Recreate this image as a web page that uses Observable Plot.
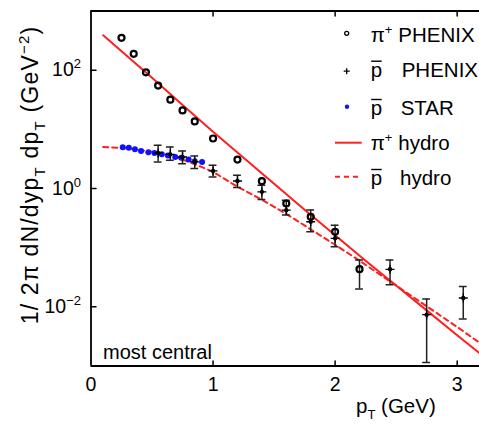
<!DOCTYPE html>
<html><head><meta charset="utf-8">
<script src="https://cdn.jsdelivr.net/npm/d3@7"></script>
<script src="https://cdn.jsdelivr.net/npm/@observablehq/plot@0.6"></script>
<style>body{margin:0;background:#fff;} #chart{width:479px;height:424px;overflow:hidden;}</style>
</head><body><div id="chart"></div>
<script>
// ---- data ----
const piX = [0.25,0.35,0.45,0.55,0.65,0.75,0.85,1.0,1.2,1.4,1.6,1.8,2.0,2.2];
const piY = [352,189,92,55,31.7,20.9,13.6,7.0,3.08,1.33,0.558,0.332,0.185,0.0433];
const piErrX = [2.2];
const piErrLo = [0.020];
const piErrHi = [0.0617];

const pbX  = [0.55,0.65,0.75,0.85,1.0,1.2,1.4,1.6,1.8,2.0,2.45,2.75,3.05];
const pbY  = [3.98,3.78,3.41,2.81,1.98,1.34,0.877,0.431,0.274,0.144,0.0431,0.00736,0.0141];
const pbHi = [5.36,5.01,4.30,3.54,2.47,1.67,1.14,0.635,0.432,0.240,0.0621,0.0135,0.0220];
const pbLo = [2.81,2.99,2.63,2.17,1.57,1.04,0.653,0.356,0.186,0.104,0.0236,0.00115,0.00624];

const starX = [0.26,0.31,0.36,0.41,0.47,0.52,0.58,0.63,0.69,0.74,0.80,0.85,0.91];
const starY = [5.0,4.9,4.6,4.3,4.1,4.0,3.8,3.6,3.4,3.3,3.1,2.9,2.8];

const piHydroX = [0.1,0.25,0.5,0.75,1.0,1.25,1.5,1.75,2.0,2.25,2.5,2.75,3.0,3.2];
const piHydroY = [389,209,74.1,25.7,9.12,3.31,1.20,0.437,0.162,0.0603,0.0229,0.00871,0.00331,0.00155];

const pbHydroX = [0.1,0.3,0.5,0.7,0.9,1.0,1.2,1.4,1.6,1.8,2.0,2.2,2.4,2.6,2.8,3.0,3.2];
const pbHydroY = [5.01,4.79,4.17,3.39,2.34,1.91,1.07,0.646,0.372,0.204,0.112,0.0603,0.0316,0.0166,0.00871,0.00457,0.00234];

const xTicks = [0,1,2,3];
const xInnerTicks = [1,2,3];
const yTicks = [1e-2,1,1e2];
const xDomain = [0, 3.183];
const yDomain = [1e-3, 1e3];

// ---- build tables ----
const pi = piX.map((x,i)=>({x, y: piY[i]}));
const piErr = piErrX.map((x,i)=>({x, lo: piErrLo[i], hi: piErrHi[i]}));
const pb = pbX.map((x,i)=>({x, y: pbY[i], lo: pbLo[i], hi: pbHi[i]}));
const errs = [...pb, ...piErr];
const star = starX.map((x,i)=>({x, y: starY[i]}));
const piHydro = piHydroX.map((x,i)=>({x, y: piHydroY[i]}));
const pbHydro = pbHydroX.map((x,i)=>({x, y: pbHydroY[i]}));

const FONT = "'Liberation Sans', Arial, Helvetica, sans-serif";
const RED = "#ff1f1f", BLUE = "#1010ff", ERR = "#222";
const capHalf = 0.032;
const tickShape = {draw(ctx, l){ ctx.moveTo(0,0); ctx.lineTo(0,-l); }};

const plot = Plot.plot({
  width: 479, height: 424,
  marginLeft: 90.5, marginRight: 0, marginTop: 10.5, marginBottom: 58.5,
  style: {fontFamily: FONT, fontSize: "19px", background: "white", color: "black"},
  x: {domain: xDomain},
  y: {type: "log", domain: yDomain},
  marks: [
    Plot.axisX({ticks: xTicks, tickSize: 0, tickPadding: 11, tickFormat: d => String(d), label: null, fontSize: 19.5}),
    Plot.axisY({ticks: yTicks, tickSize: 0, tickPadding: 10,
      tickFormat: d => { const e = Math.round(Math.log10(d)); return e < 0 ? "\u2212" + (-e) : String(e); },
      label: null, fontSize: 19.5}),
    // hydro curves
    Plot.line(piHydro, {x: "x", y: "y", stroke: RED, strokeWidth: 2, clip: true}),
    Plot.line(pbHydro, {x: "x", y: "y", stroke: RED, strokeWidth: 2, strokeDasharray: "5,4", clip: true}),
    // STAR
    Plot.dot(star, {x: "x", y: "y", r: 3, fill: BLUE, stroke: "none", clip: true}),
    // error bars
    Plot.ruleX(errs, {x: "x", y1: "lo", y2: "hi", stroke: ERR, strokeWidth: 1.5, clip: true}),
    Plot.ruleY(errs, {y: "hi", x1: d => d.x - capHalf, x2: d => d.x + capHalf, stroke: ERR, strokeWidth: 1.5, clip: true}),
    Plot.ruleY(errs, {y: "lo", x1: d => d.x - capHalf, x2: d => d.x + capHalf, stroke: ERR, strokeWidth: 1.5, clip: true}),
    // pbar PHENIX
    Plot.dot(pb, {x: "x", y: "y", r: 2.2, fill: "black", stroke: "none", clip: true}),
    Plot.dot(pb, {x: "x", y: "y", r: 3, symbol: "plus", stroke: "black", strokeWidth: 1.3, clip: true}),
    // pi+ PHENIX
    Plot.dot(pi, {x: "x", y: "y", r: 3, fill: "none", stroke: "black", strokeWidth: 2.2, clip: true}),
    // frame
    Plot.ruleX([xDomain[0]], {stroke: "black", strokeWidth: 1.8}),
    Plot.ruleY([yDomain[0]], {stroke: "black", strokeWidth: 1.8}),
    Plot.ruleY([yDomain[1]], {stroke: "black", strokeWidth: 1.8}),
    // inward ticks
    Plot.vector(xInnerTicks, {x: d => d, frameAnchor: "bottom", length: 5, rotate: 0, anchor: "start", shape: tickShape, stroke: "black", strokeWidth: 1.5}),
    Plot.vector(xInnerTicks, {x: d => d, frameAnchor: "top", length: 5, rotate: 180, anchor: "start", shape: tickShape, stroke: "black", strokeWidth: 1.5}),
    Plot.vector(yTicks, {y: d => d, frameAnchor: "left", length: 5, rotate: 90, anchor: "start", shape: tickShape, stroke: "black", strokeWidth: 1.5}),
    Plot.text(["most central"], {frameAnchor: "bottom-left", dx: 12, dy: -7, textAnchor: "start", lineAnchor: "bottom", fontSize: 20, fill: "black"})
  ]
});

document.getElementById("chart").appendChild(plot);
const svg = d3.select(plot);

// superscript exponents on y tick labels
svg.selectAll('g[aria-label="y-axis tick label"] text').each(function(){
  const t = d3.select(this); const e = t.text(); t.text("");
  t.append("tspan").text("10");
  t.append("tspan").attr("dy", "-8").attr("font-size", "13px").text(e);
});

function addText(parent, x, y, parts, attrs = {}, size = 20.5) {
  const t = parent.append("text").attr("x", x).attr("y", y)
    .attr("font-family", FONT).attr("font-size", size).attr("fill", "black")
    .attr("text-anchor", "start");
  for (const [k, v] of Object.entries(attrs)) t.attr(k, v);
  let shift = 0;
  const small = Math.round(size * 0.65);
  for (const [s, kind] of parts) {
    const sp = t.append("tspan").text(s);
    let target = kind === "sup" ? -Math.round(size * 0.4) : kind === "sub" ? Math.round(size * 0.3) : 0;
    if (target !== shift) { sp.attr("dy", target - shift); shift = target; }
    if (kind) sp.attr("font-size", small);
  }
  return t;
}

// axis titles
addText(svg, 356, 413, [["p"], ["T", "sub"], [" (GeV)"]]);
addText(svg, 0, 0, [["1/ 2\u03c0 dN/dyp"], ["T", "sub"], [" dp"], ["T", "sub"], [" (GeV"], ["\u22122", "sup"], [")"]],
  {"text-anchor": "middle", transform: "translate(38,175) rotate(-90)", "letter-spacing": 1.2}, 23);

// legend
const lg = svg.append("g");
const pbar = (x, base) => {
  lg.append("line").attr("x1", x + 0.5).attr("x2", x + 11).attr("y1", base - 15.5).attr("y2", base - 15.5)
    .attr("stroke", "black").attr("stroke-width", 1.4);
};
// row 1: pi+ PHENIX
lg.append("circle").attr("cx", 346.7).attr("cy", 33.3).attr("r", 2).attr("fill", "none").attr("stroke", "black").attr("stroke-width", 1.3);
addText(lg, 370.7, 41.7, [["\u03c0"], ["+", "sup"]]);
addText(lg, 398.3, 41.7, [["PHENIX"]]);
// row 2: pbar PHENIX
lg.append("path").attr("d", "M343.7,71.2H349.7M346.7,68.2V74.2").attr("stroke", "black").attr("stroke-width", 1.3);
addText(lg, 370.7, 76.7, [["p"]]); pbar(370.7, 76.7);
addText(lg, 401.7, 76.7, [["PHENIX"]]);
// row 3: pbar STAR
lg.append("circle").attr("cx", 347).attr("cy", 106.7).attr("r", 2.2).attr("fill", BLUE);
addText(lg, 370.7, 115, [["p"]]); pbar(370.7, 115);
addText(lg, 400.7, 115, [["STAR"]]);
// row 4: pi+ hydro
lg.append("line").attr("x1", 335).attr("x2", 361.7).attr("y1", 142.7).attr("y2", 142.7).attr("stroke", RED).attr("stroke-width", 2);
addText(lg, 370.7, 150, [["\u03c0"], ["+", "sup"]]);
addText(lg, 398.3, 150, [["hydro"]]);
// row 5: pbar hydro
lg.append("line").attr("x1", 335).attr("x2", 361.7).attr("y1", 176.7).attr("y2", 176.7).attr("stroke", RED).attr("stroke-width", 2).attr("stroke-dasharray", "5,4");
addText(lg, 370.7, 185, [["p"]]); pbar(370.7, 185);
addText(lg, 400, 185, [["hydro"]]);
</script>
</body></html>
